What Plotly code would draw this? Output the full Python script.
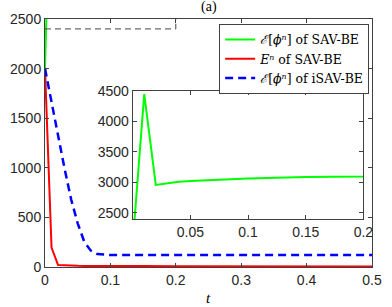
import plotly.graph_objects as go

# ---- data ----
t = [0, 0.01, 0.02, 0.03, 0.04, 0.05, 0.06, 0.07, 0.08, 0.09, 0.1, 0.15, 0.2, 0.3, 0.4, 0.5]
energy_sav = [2000, 4450, 2960, 2990, 3010, 3025, 3035, 3045, 3052, 3058, 3064, 3088, 3108, 3130, 3145, 3160]
En_sav = [2000, 195, 20, 15, 13, 12, 11, 10, 10, 10, 10, 9, 8, 7, 6, 5]
energy_isav = [2000, 1660, 1320, 990, 680, 440, 255, 165, 130, 122, 120, 120, 120, 120, 120, 120]

zoom_box_x = [0, 0.2, 0.2]
zoom_box_y = [2400, 2400, 2500]

main_xticks = [0, 0.1, 0.2, 0.3, 0.4, 0.5]
main_xticklabels = ["0", "0.1", "0.2", "0.3", "0.4", "0.5"]
main_yticks = [0, 500, 1000, 1500, 2000, 2500]
inset_xticks = [0.05, 0.1, 0.15, 0.2]
inset_xticklabels = ["0.05", "0.1", "0.15", "0.2"]
inset_yticks = [2500, 3000, 3500, 4000, 4500]

names = [
    "<i>ℰ</i>[<i>ϕⁿ</i>] of SAV-BE",
    "<i>Eⁿ</i> of SAV-BE",
    "<i>ℰ</i>[<i>ϕⁿ</i>] of iSAV-BE",
]

GREEN, RED, BLUE = "#00ff00", "#ff0000", "#0000ff"
AX = "#404040"
TICKFONT = dict(family="Liberation Sans, Arial, sans-serif", size=14, color="#262626")
SERIF = "Liberation Serif, DejaVu Serif, serif"

fig = go.Figure()

# main axes
fig.add_trace(go.Scatter(x=t, y=energy_sav, mode="lines", name=names[0],
                         line=dict(color=GREEN, width=2), xaxis="x", yaxis="y"))
fig.add_trace(go.Scatter(x=t, y=En_sav, mode="lines", name=names[1],
                         line=dict(color=RED, width=2), xaxis="x", yaxis="y"))
fig.add_trace(go.Scatter(x=t, y=energy_isav, mode="lines", name=names[2],
                         line=dict(color=BLUE, width=2.5, dash="8px,5px"), xaxis="x", yaxis="y"))
fig.add_trace(go.Scatter(x=zoom_box_x, y=zoom_box_y, mode="lines", showlegend=False,
                         line=dict(color="#444444", width=1, dash="6px,4px"), xaxis="x", yaxis="y",
                         hoverinfo="skip"))

# inset axes
fig.add_trace(go.Scatter(x=t, y=energy_sav, mode="lines", showlegend=False,
                         line=dict(color=GREEN, width=2), xaxis="x2", yaxis="y2"))

ax_common = dict(showgrid=False, zeroline=False, showline=True, linecolor=AX, linewidth=1,
                 ticks="inside", ticklen=4, tickcolor=AX, mirror="ticks", tickfont=TICKFONT)

fig.update_layout(
    width=392, height=307,
    margin=dict(l=39, r=10, t=19, b=40),
    paper_bgcolor="white", plot_bgcolor="white",
    xaxis=dict(domain=[0, 1], range=[0, 0.5], tickvals=main_xticks, ticktext=main_xticklabels,
               anchor="y", **ax_common),
    yaxis=dict(domain=[0, 1], range=[0, 2500], tickvals=main_yticks, anchor="x", **ax_common),
    xaxis2=dict(domain=[0.2682, 0.9738], range=[0, 0.2], tickvals=inset_xticks,
                ticktext=inset_xticklabels, anchor="y2", **ax_common),
    yaxis2=dict(domain=[0.1935, 0.7097], range=[2400, 4500], tickvals=inset_yticks,
                anchor="x2", **ax_common),
    legend=dict(x=0.9913, xanchor="right", y=0.98, yanchor="top",
                bgcolor="white", bordercolor=AX, borderwidth=1,
                font=dict(family="DejaVu Serif, serif", size=12.5, color="black"),
                itemwidth=30, tracegroupgap=0),
    showlegend=True,
    shapes=[dict(type="rect", xref="paper", yref="paper", x0=0.2682, x1=0.9738,
                 y0=0.1935, y1=0.7097, fillcolor="white", line=dict(width=0), layer="below")],
    annotations=[
        dict(text="(a)", xref="paper", yref="paper", x=0.5, y=(267 - 7) / 248,
             xanchor="center", yanchor="middle", showarrow=False,
             font=dict(family=SERIF, size=14, color="black")),
        dict(text="<i>t</i>", xref="paper", yref="paper", x=0.5, y=(267 - 298) / 248,
             xanchor="center", yanchor="middle", showarrow=False,
             font=dict(family=SERIF, size=15, color="black")),
    ],
)

fig.write_html("out.html", config={"displayModeBar": False},
               post_script="document.body.style.margin='0';")
